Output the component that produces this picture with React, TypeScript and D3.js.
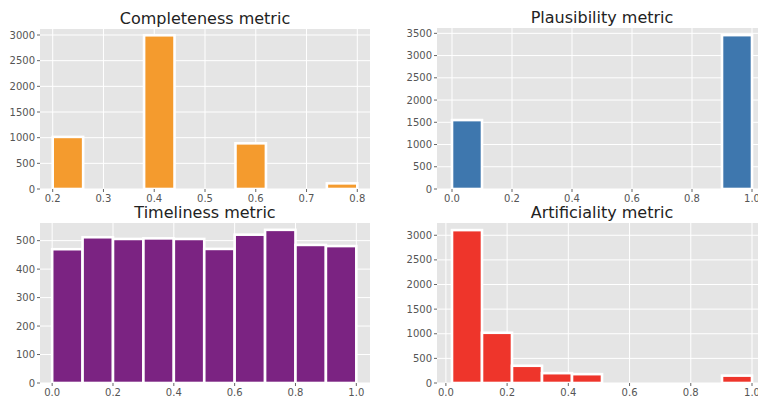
import React, { useEffect, useRef } from 'react';
import * as d3 from 'd3';

// bin edges and counts
const completenessEdges = [0.2, 0.26, 0.32, 0.38, 0.44, 0.5, 0.56, 0.62, 0.68, 0.74, 0.8];
const completenessCounts = [1015, 0, 0, 2995, 0, 0, 890, 0, 0, 110];
const completenessXTicks = [0.2, 0.3, 0.4, 0.5, 0.6, 0.7, 0.8];
const completenessYTicks = [0, 500, 1000, 1500, 2000, 2500, 3000];

const plausibilityEdges = [0, 0.1, 0.2, 0.3, 0.4, 0.5, 0.6, 0.7, 0.8, 0.9, 1.0];
const plausibilityCounts = [1550, 0, 0, 0, 0, 0, 0, 0, 0, 3460];
const plausibilityXTicks = [0, 0.2, 0.4, 0.6, 0.8, 1.0];
const plausibilityYTicks = [0, 500, 1000, 1500, 2000, 2500, 3000, 3500];

const timelinessEdges = [0, 0.1, 0.2, 0.3, 0.4, 0.5, 0.6, 0.7, 0.8, 0.9, 1.0];
const timelinessCounts = [470, 512, 506, 508, 506, 471, 521, 538, 485, 481];
const timelinessXTicks = [0, 0.2, 0.4, 0.6, 0.8, 1.0];
const timelinessYTicks = [0, 100, 200, 300, 400, 500];

const artificialityEdges = [0.02, 0.118, 0.216, 0.314, 0.412, 0.51, 0.608, 0.706, 0.804, 0.902, 1.0];
const artificialityCounts = [3105, 1020, 350, 200, 180, 0, 0, 0, 0, 150];
const artificialityXTicks = [0, 0.2, 0.4, 0.6, 0.8, 1.0];
const artificialityYTicks = [0, 500, 1000, 1500, 2000, 2500, 3000];

const W = 758;
const H = 398;

const App = () => {
  const svgRef = useRef<SVGSVGElement>(null);

  useEffect(() => {
    const svg = d3.select(svgRef.current);
    svg.selectAll('*').remove();

    const panels = [
      { title: 'Completeness metric', edges: completenessEdges, counts: completenessCounts, xt: completenessXTicks, yt: completenessYTicks,
        color: '#f49b2e', x0: 40, x1: 370, y0: 29, y1: 189, xd: [0.175, 0.825], ymax: 3117, fmt: d3.format('.1f') },
      { title: 'Plausibility metric', edges: plausibilityEdges, counts: plausibilityCounts, xt: plausibilityXTicks, yt: plausibilityYTicks,
        color: '#3e77ae', x0: 437, x1: 767, y0: 28, y1: 189, xd: [-0.05, 1.05], ymax: 3620, fmt: d3.format('.1f') },
      { title: 'Timeliness metric', edges: timelinessEdges, counts: timelinessCounts, xt: timelinessXTicks, yt: timelinessYTicks,
        color: '#7b2382', x0: 40, x1: 370, y0: 223, y1: 383, xd: [-0.04, 1.045], ymax: 562, fmt: d3.format('.1f') },
      { title: 'Artificiality metric', edges: artificialityEdges, counts: artificialityCounts, xt: artificialityXTicks, yt: artificialityYTicks,
        color: '#ee352b', x0: 437, x1: 767, y0: 223, y1: 383, xd: [-0.029, 1.049], ymax: 3249, fmt: d3.format('.1f') },
    ];

    panels.forEach(p => {
      const x = d3.scaleLinear().domain(p.xd).range([p.x0, p.x1]);
      const y = d3.scaleLinear().domain([0, p.ymax]).range([p.y1, p.y0]);
      const g = svg.append('g');

      g.append('rect')
        .attr('x', p.x0).attr('y', p.y0)
        .attr('width', p.x1 - p.x0).attr('height', p.y1 - p.y0)
        .attr('fill', '#e5e5e5');

      // grid
      g.selectAll('line.gx').data(p.xt).enter().append('line')
        .attr('x1', d => x(d)).attr('x2', d => x(d))
        .attr('y1', p.y0).attr('y2', p.y1)
        .attr('stroke', '#fff').attr('stroke-width', 1);
      g.selectAll('line.gy').data(p.yt).enter().append('line')
        .attr('x1', p.x0).attr('x2', p.x1)
        .attr('y1', d => y(d)).attr('y2', d => y(d))
        .attr('stroke', '#fff').attr('stroke-width', 1);

      const bins = p.counts.map((c, i) => ({ a: p.edges[i], b: p.edges[i + 1], c })).filter(d => d.c > 0);
      g.selectAll('rect.bar').data(bins).enter().append('rect')
        .attr('x', d => x(d.a))
        .attr('width', d => x(d.b) - x(d.a))
        .attr('y', d => y(d.c))
        .attr('height', d => y(0) - y(d.c))
        .attr('fill', p.color)
        .attr('stroke', '#fff')
        .attr('stroke-width', 2.6);

      // ticks
      g.selectAll('line.tx').data(p.xt).enter().append('line')
        .attr('x1', d => x(d)).attr('x2', d => x(d))
        .attr('y1', p.y1).attr('y2', p.y1 + 3)
        .attr('stroke', '#666');
      g.selectAll('line.ty').data(p.yt).enter().append('line')
        .attr('x1', p.x0 - 3).attr('x2', p.x0)
        .attr('y1', d => y(d)).attr('y2', d => y(d))
        .attr('stroke', '#666');

      g.selectAll('text.tx').data(p.xt).enter().append('text')
        .attr('x', d => x(d)).attr('y', p.y1 + 13)
        .attr('text-anchor', 'middle')
        .style('font-family', 'DejaVu Sans').style('font-size', '10px')
        .attr('fill', '#555')
        .text(d => p.fmt(d));
      g.selectAll('text.ty').data(p.yt).enter().append('text')
        .attr('x', p.x0 - 5).attr('y', d => y(d) + 3.5)
        .attr('text-anchor', 'end')
        .style('font-family', 'DejaVu Sans').style('font-size', '10px')
        .attr('fill', '#555')
        .text(d => String(d));

      g.append('text')
        .attr('x', (p.x0 + p.x1) / 2).attr('y', p.y0 - 5)
        .attr('text-anchor', 'middle')
        .style('font-family', 'DejaVu Sans').style('font-size', '16px')
        .attr('fill', '#222')
        .text(p.title);
    });
  }, []);

  return (
    <div style={{ position: 'absolute', left: 0, top: 0 }}>
      <svg ref={svgRef} width={W} height={H} style={{ display: 'block', background: '#fff' }} />
    </div>
  );
};

export default App;
